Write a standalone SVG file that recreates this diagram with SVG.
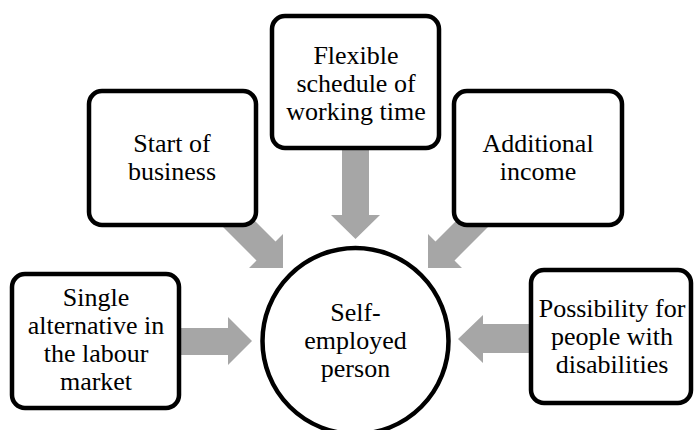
<svg xmlns="http://www.w3.org/2000/svg" width="694" height="430" viewBox="0 0 694 430">
<style>
.box{fill:#fff;stroke:#000;stroke-width:4.5}
.arr{fill:#a6a6a6;stroke:none}
</style>
<rect width="694" height="430" fill="#fff"/>
<g id="connectors">
<polygon class="arr" points="342,140 369,140 369,215 380,215 355.5,239 331,215 342,215"/>
<polygon class="arr" points="215.5,181.5 275.5,241.5 283,234 283,268 249,268 256.5,260.5 196.5,200.5"/>
<polygon class="arr" points="495.5,181.5 435.5,241.5 428,234 428,268 462,268 454.5,260.5 514.5,200.5"/>
<polygon class="arr" points="170,328 228,328 228,317 252,341 228,365 228,355 170,355"/>
<polygon class="arr" points="540,324 483,324 483,315 458,339 483,363 483,353 540,353"/>
</g>
<g id="flexible">
<rect class="box" x="272" y="16" width="167" height="132" rx="13"/>
<text x="356" y="64" font-family="Liberation Serif" font-size="26" style="font-family:'Liberation Serif',serif;text-anchor:middle">Flexible</text>
<text x="356" y="92" font-family="Liberation Serif" font-size="26" style="font-family:'Liberation Serif',serif;text-anchor:middle">schedule of</text>
<text x="356" y="120" font-family="Liberation Serif" font-size="26" style="font-family:'Liberation Serif',serif;text-anchor:middle">working time</text>
</g>
<g id="start">
<rect class="box" x="89" y="91" width="167" height="134" rx="13"/>
<text x="172" y="152" font-family="Liberation Serif" font-size="26" style="font-family:'Liberation Serif',serif;text-anchor:middle">Start of</text>
<text x="172" y="180" font-family="Liberation Serif" font-size="26" style="font-family:'Liberation Serif',serif;text-anchor:middle">business</text>
</g>
<g id="additional">
<rect class="box" x="454" y="91" width="168" height="134" rx="13"/>
<text x="538" y="152" font-family="Liberation Serif" font-size="26" style="font-family:'Liberation Serif',serif;text-anchor:middle">Additional</text>
<text x="538" y="180" font-family="Liberation Serif" font-size="26" style="font-family:'Liberation Serif',serif;text-anchor:middle">income</text>
</g>
<g id="single">
<rect class="box" x="12" y="274" width="167" height="134" rx="13"/>
<text x="96" y="306" font-family="Liberation Serif" font-size="26" style="font-family:'Liberation Serif',serif;text-anchor:middle">Single</text>
<text x="96" y="334" font-family="Liberation Serif" font-size="26" style="font-family:'Liberation Serif',serif;text-anchor:middle">alternative in</text>
<text x="96" y="362" font-family="Liberation Serif" font-size="26" style="font-family:'Liberation Serif',serif;text-anchor:middle">the labour</text>
<text x="96" y="390" font-family="Liberation Serif" font-size="26" style="font-family:'Liberation Serif',serif;text-anchor:middle">market</text>
</g>
<g id="possibility">
<rect class="box" x="531" y="270" width="160" height="133" rx="13"/>
<text x="612" y="317" font-family="Liberation Serif" font-size="26" style="font-family:'Liberation Serif',serif;text-anchor:middle">Possibility for</text>
<text x="612" y="345" font-family="Liberation Serif" font-size="26" style="font-family:'Liberation Serif',serif;text-anchor:middle">people with</text>
<text x="612" y="373" font-family="Liberation Serif" font-size="26" style="font-family:'Liberation Serif',serif;text-anchor:middle">disabilities</text>
</g>
<g id="self">
<circle class="box" cx="355.5" cy="341" r="93"/>
<text x="355.5" y="321" font-family="Liberation Serif" font-size="26" style="font-family:'Liberation Serif',serif;text-anchor:middle">Self-</text>
<text x="355.5" y="349" font-family="Liberation Serif" font-size="26" style="font-family:'Liberation Serif',serif;text-anchor:middle">employed</text>
<text x="355.5" y="377" font-family="Liberation Serif" font-size="26" style="font-family:'Liberation Serif',serif;text-anchor:middle">person</text>
</g>
</svg>
